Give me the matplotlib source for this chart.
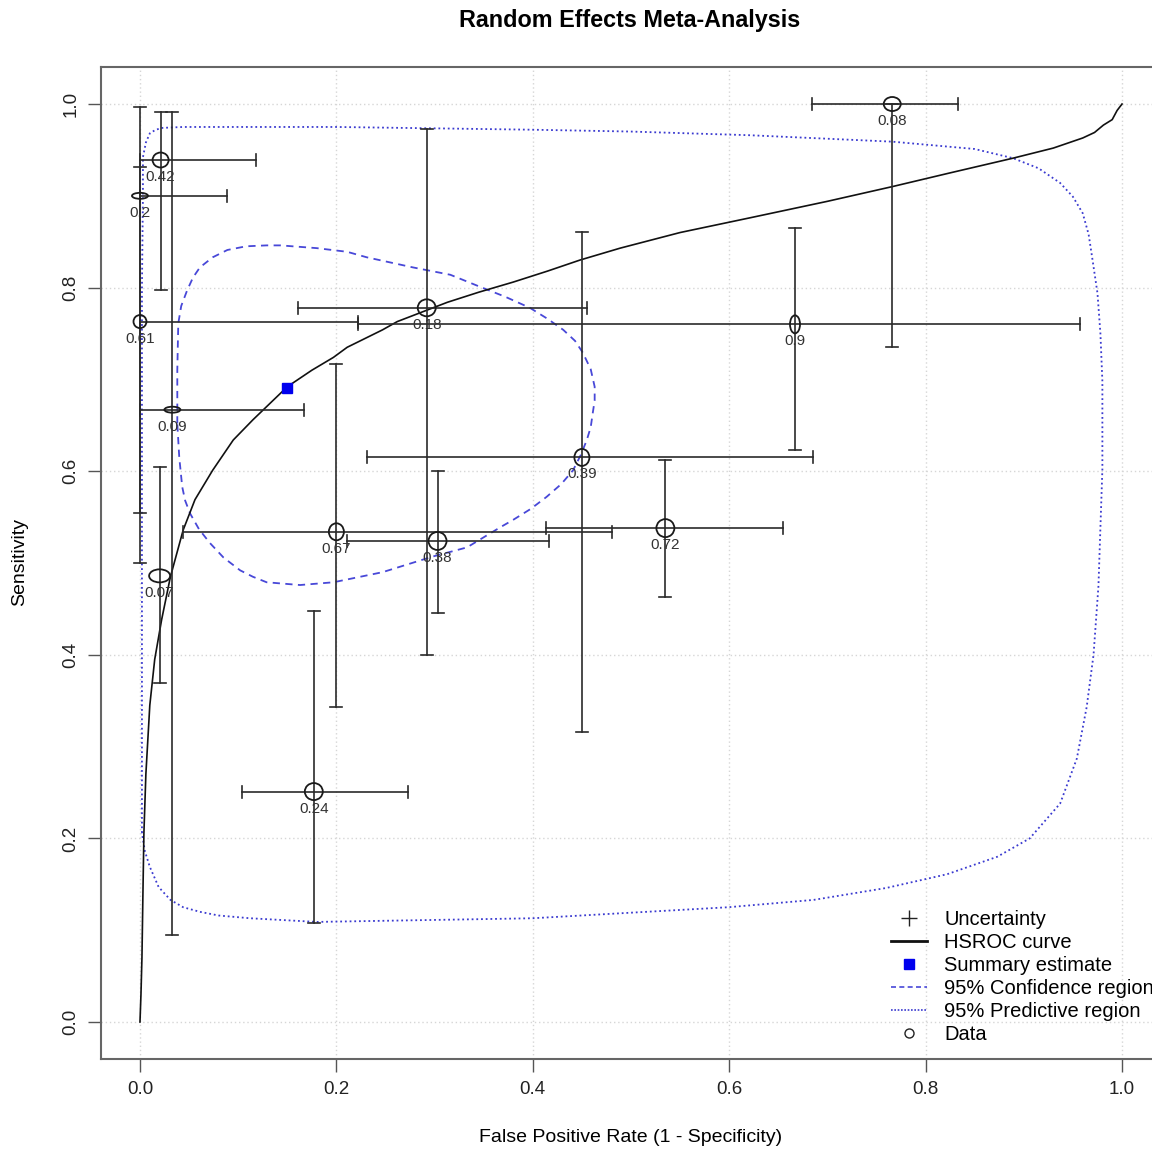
import numpy as np
import matplotlib
matplotlib.use("Agg")
import matplotlib.pyplot as plt
from matplotlib.patches import Ellipse
from matplotlib.lines import Line2D

plt.rcParams['font.family'] = ['Liberation Sans', 'DejaVu Sans']

# ---- study data ----
labels = ["0.08", "0.42", "0.2", "0.61", "0.09", "0.07", "0.67",
          "0.38", "0.39", "0.72", "0.24", "0.18", "0.9"]
fpr = [0.766, 0.021, 0.000, 0.000, 0.033, 0.020, 0.200,
       0.303, 0.450, 0.535, 0.177, 0.292, 0.667]
sens = [1.000, 0.939, 0.900, 0.763, 0.667, 0.486, 0.534,
        0.524, 0.615, 0.538, 0.251, 0.778, 0.760]
fpr_lo = [0.684, 0.000, 0.000, 0.000, 0.000, 0.020, 0.044,
          0.211, 0.231, 0.413, 0.104, 0.161, 0.222]
fpr_hi = [0.833, 0.118, 0.089, 0.222, 0.167, 0.020, 0.481,
          0.417, 0.685, 0.655, 0.273, 0.455, 0.957]
sens_lo = [0.735, 0.797, 0.554, 0.500, 0.095, 0.369, 0.343,
           0.446, 0.316, 0.463, 0.108, 0.400, 0.623]
sens_hi = [1.000, 0.991, 0.931, 0.997, 0.991, 0.605, 0.717,
           0.600, 0.861, 0.612, 0.448, 0.973, 0.865]
# ellipse sizes of the data symbols
ell_w = [0.0173, 0.0163, 0.0163, 0.0132, 0.0163, 0.0214, 0.0153,
         0.0183, 0.0153, 0.0183, 0.0183, 0.0183, 0.0102]
ell_h = [0.0153, 0.0163, 0.0065, 0.0142, 0.0065, 0.0142, 0.0185,
         0.0196, 0.0185, 0.0196, 0.0185, 0.0185, 0.0196]

summary_fpr = 0.150
summary_sens = 0.691

# HSROC curve
hsroc_x = [0.000, 0.001, 0.002, 0.003, 0.004, 0.006, 0.010, 0.015, 0.022,
           0.031, 0.044, 0.056, 0.074, 0.095, 0.115, 0.150, 0.175, 0.197,
           0.211, 0.247, 0.262, 0.313, 0.345, 0.380, 0.415, 0.448, 0.489,
           0.550, 0.621, 0.700, 0.766, 0.825, 0.889, 0.930, 0.960, 0.972,
           0.981, 0.990, 0.995, 1.000]
hsroc_y = [0.000, 0.030, 0.070, 0.140, 0.206, 0.270, 0.345, 0.395, 0.438,
           0.485, 0.536, 0.569, 0.601, 0.634, 0.656, 0.692, 0.710, 0.724,
           0.735, 0.754, 0.763, 0.784, 0.795, 0.806, 0.818, 0.830, 0.843,
           0.860, 0.876, 0.894, 0.910, 0.925, 0.941, 0.952, 0.963, 0.969,
           0.977, 0.983, 0.993, 1.000]

# 95% confidence region
conf_x = [0.038, 0.038, 0.039, 0.042, 0.048, 0.054, 0.061, 0.074, 0.089,
          0.108, 0.129, 0.143, 0.180, 0.211, 0.231, 0.278, 0.316, 0.346,
          0.372, 0.397, 0.415, 0.431, 0.443, 0.451, 0.459, 0.463, 0.463,
          0.461, 0.459, 0.455, 0.449, 0.441, 0.429, 0.414, 0.398, 0.380,
          0.367, 0.350, 0.333, 0.298, 0.247, 0.197, 0.163, 0.129, 0.115,
          0.102, 0.085, 0.071, 0.060, 0.051, 0.046, 0.043, 0.040, 0.038]
conf_y = [0.652, 0.710, 0.761, 0.780, 0.797, 0.811, 0.822, 0.833, 0.841,
          0.845, 0.846, 0.846, 0.843, 0.839, 0.833, 0.822, 0.814, 0.801,
          0.790, 0.778, 0.766, 0.754, 0.742, 0.729, 0.711, 0.692, 0.677,
          0.663, 0.648, 0.634, 0.618, 0.601, 0.586, 0.572, 0.559, 0.547,
          0.539, 0.528, 0.517, 0.507, 0.490, 0.479, 0.476, 0.479, 0.485,
          0.492, 0.506, 0.522, 0.537, 0.554, 0.568, 0.583, 0.615, 0.652]

# 95% predictive region
pred_x = [0.002, 0.002, 0.002, 0.002, 0.003, 0.003, 0.006, 0.010, 0.016,
          0.023, 0.044, 0.200, 0.400, 0.500, 0.621, 0.766, 0.850, 0.889,
          0.915, 0.937, 0.950, 0.960, 0.966, 0.970, 0.975, 0.978, 0.980,
          0.980, 0.976, 0.971, 0.964, 0.954, 0.937, 0.906, 0.873, 0.822,
          0.760, 0.686, 0.599, 0.499, 0.400, 0.346, 0.180, 0.112, 0.080,
          0.061, 0.044, 0.031, 0.019, 0.010, 0.005, 0.002]
pred_y = [0.206, 0.400, 0.600, 0.800, 0.900, 0.942, 0.958, 0.968, 0.972,
          0.974, 0.975, 0.975, 0.972, 0.970, 0.966, 0.959, 0.951, 0.941,
          0.930, 0.914, 0.899, 0.881, 0.858, 0.830, 0.794, 0.750, 0.698,
          0.602, 0.475, 0.400, 0.343, 0.287, 0.238, 0.200, 0.180, 0.161,
          0.146, 0.133, 0.125, 0.119, 0.113, 0.112, 0.109, 0.113, 0.116,
          0.120, 0.125, 0.133, 0.147, 0.169, 0.186, 0.206]

ticks = [0.0, 0.2, 0.4, 0.6, 0.8, 1.0]
tick_labels = ["0.0", "0.2", "0.4", "0.6", "0.8", "1.0"]

# ---- figure ----
W, H = 1152, 1154
fig = plt.figure(figsize=(W / 100, H / 100), dpi=100)
ax = fig.add_axes([100.7 / W, (H - 1058.7) / H, 1060.6 / W, 991.4 / H])
ax.set_xlim(-0.04, 1.04)
ax.set_ylim(-0.04, 1.04)

ax.set_xticks(ticks)
ax.set_xticklabels(tick_labels)
ax.set_yticks(ticks)
ax.set_yticklabels(tick_labels, rotation=90, va='center')
ax.tick_params(length=9.3, width=1.0, color='#555555', labelsize=13.5,
               labelcolor='#222222')
ax.tick_params(axis='x', pad=7)
ax.tick_params(axis='y', pad=6)
for s in ax.spines.values():
    s.set_color('#666666')
    s.set_linewidth(1.5)
ax.grid(True, color='#d6d6d6', linestyle=(0, (1, 2)), linewidth=1.0)
ax.set_axisbelow(True)

# predictive and confidence regions
ax.plot(pred_x, pred_y, color='#3a3ad0', linestyle=(0, (1, 1.6)), lw=1.3)
ax.plot(conf_x, conf_y, color='#4848d8', linestyle=(0, (4, 3)), lw=1.3)

# HSROC curve
ax.plot(hsroc_x, hsroc_y, color='#111111', lw=1.2)

# uncertainty bars
bar_col = '#2a2a2a'
cap = 6 / 982  # half cap length in data units (x)
capy = 6 / 918
for i in range(len(labels)):
    if fpr_hi[i] > fpr_lo[i]:
        ax.plot([fpr_lo[i], fpr_hi[i]], [sens[i], sens[i]], color=bar_col, lw=1.2)
        for xe in (fpr_lo[i], fpr_hi[i]):
            ax.plot([xe, xe], [sens[i] - capy, sens[i] + capy], color=bar_col, lw=1.2)
    if sens_hi[i] > sens_lo[i]:
        ax.plot([fpr[i], fpr[i]], [sens_lo[i], sens_hi[i]], color=bar_col, lw=1.2)
        for ye in (sens_lo[i], sens_hi[i]):
            ax.plot([fpr[i] - cap, fpr[i] + cap], [ye, ye], color=bar_col, lw=1.2)

# data ellipses and labels
for i in range(len(labels)):
    ax.add_patch(Ellipse((fpr[i], sens[i]), ell_w[i], ell_h[i], fill=False,
                         edgecolor='#1a1a1a', lw=1.3, zorder=4))
    ax.annotate(labels[i], (fpr[i], sens[i]), xytext=(0, -17),
                textcoords='offset pixels', ha='center', va='center',
                fontsize=11, color='#333333', zorder=5)

# summary estimate
ax.plot([summary_fpr], [summary_sens], marker='s', color='#0000ee',
        markersize=6.5, linestyle='none', zorder=6)

# legend
handles = [
    Line2D([], [], marker='+', color='#222222', linestyle='none', markersize=11),
    Line2D([], [], color='#111111', lw=2),
    Line2D([], [], marker='s', color='#0000ee', linestyle='none', markersize=6.5),
    Line2D([], [], color='#4848d8', linestyle=(0, (3, 2)), lw=1.2),
    Line2D([], [], color='#3a3ad0', linestyle=(0, (1, 1)), lw=1.2),
    Line2D([], [], marker='o', color='#222222', mfc='none', linestyle='none', markersize=6.5),
]
names = ["Uncertainty", "HSROC curve", "Summary estimate",
         "95% Confidence region", "95% Predictive region", "Data"]
fig.legend(handles, names, loc='upper left', bbox_to_anchor=(891 / W, 1 - 910 / H),
           frameon=False, fontsize=14.5, handlelength=1.8, handletextpad=0.85,
           labelspacing=0.2, borderpad=0, borderaxespad=0)

fig.text(630 / W, 1 - 21 / H, "Random Effects Meta-Analysis", ha='center',
         va='center', fontsize=16.8, fontweight='bold')
fig.text(631 / W, 1 - 1138 / H, "False Positive Rate (1 - Specificity)",
         ha='center', va='center', fontsize=14)
fig.text(20 / W, 1 - 562 / H, "Sensitivity", ha='center', va='center',
         rotation=90, fontsize=14)

fig.savefig("out.png", dpi=100)
